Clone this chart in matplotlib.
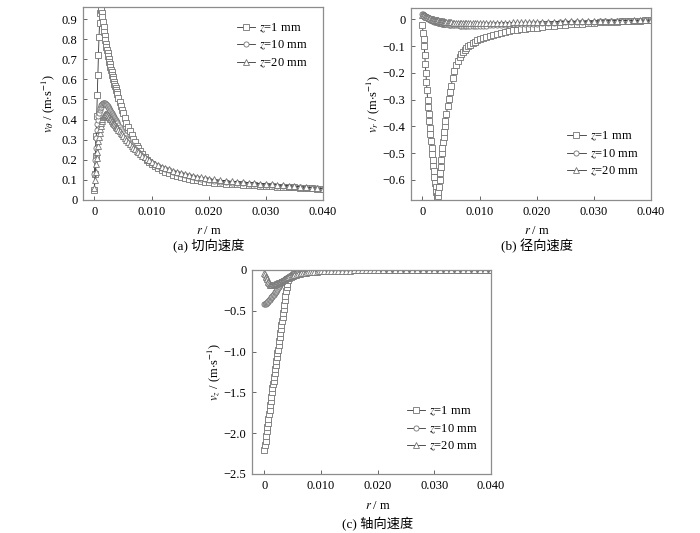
import matplotlib
matplotlib.use('Agg')
from matplotlib import pyplot as plt

plt.rcParams['font.family'] = ['Liberation Serif', 'Noto Sans CJK SC']
plt.rcParams['mathtext.fontset'] = 'stix'
plt.rcParams['font.size'] = 9

# radial positions (m), shared by all curves
r = [0.0000, 0.0001, 0.0002, 0.0003, 0.0004, 0.0005, 0.0006, 0.0007, 0.0008, 0.0009,
     0.0010, 0.0011, 0.0012, 0.0013, 0.0014, 0.0015, 0.0016, 0.0017, 0.0018, 0.0019,
     0.0020, 0.0021, 0.0022, 0.0023, 0.0024, 0.0025, 0.0026, 0.0027, 0.0028, 0.0029,
     0.0030, 0.0031, 0.0032, 0.0033, 0.0034, 0.0035, 0.0036, 0.0037, 0.0038, 0.0039,
     0.0040, 0.0042, 0.0044, 0.0046, 0.0048, 0.0050, 0.0053, 0.0056, 0.0059, 0.0062,
     0.0065, 0.0068, 0.0071, 0.0074, 0.0077, 0.0080, 0.0084, 0.0088, 0.0092, 0.0096,
     0.0100, 0.0106, 0.0112, 0.0118, 0.0124, 0.0130, 0.0137, 0.0144, 0.0151, 0.0158,
     0.0165, 0.0172, 0.0179, 0.0186, 0.0193, 0.0200, 0.021, 0.022, 0.023, 0.024,
     0.025, 0.026, 0.027, 0.028, 0.029, 0.030, 0.031, 0.032, 0.033, 0.034,
     0.035, 0.036, 0.037, 0.038, 0.039, 0.040]

labels = ['$z$=1 mm', '$z$=10 mm', '$z$=20 mm']

# (a) tangential velocity
vt_z1 = [0.05, 0.13, 0.22, 0.32, 0.42, 0.52, 0.62, 0.72, 0.81, 0.88, 0.93, 0.95, 0.945,
         0.93, 0.91, 0.885, 0.86, 0.835, 0.815, 0.795, 0.775,
         0.76, 0.745, 0.73, 0.715, 0.70, 0.687, 0.674, 0.661, 0.648, 0.636, 0.624, 0.612, 0.60,
         0.589, 0.578, 0.567, 0.556, 0.545, 0.535, 0.525,
         0.505, 0.486, 0.467, 0.449, 0.432, 0.408, 0.385, 0.363, 0.342, 0.322, 0.304, 0.287,
         0.271, 0.257, 0.244, 0.228, 0.214, 0.201, 0.189, 0.178,
         0.167, 0.157, 0.148, 0.140, 0.133, 0.126, 0.120, 0.114, 0.109, 0.105, 0.101, 0.097,
         0.094, 0.091, 0.088,
         0.085, 0.083, 0.081, 0.079, 0.078, 0.076, 0.075, 0.073, 0.072, 0.070, 0.069, 0.067,
         0.066, 0.064, 0.063, 0.061, 0.060, 0.058, 0.057, 0.055]
vt_z10 = [0.13, 0.20, 0.26, 0.31, 0.35, 0.38, 0.40, 0.42, 0.435, 0.447, 0.457, 0.465, 0.471,
          0.476, 0.479, 0.481, 0.482, 0.482, 0.481, 0.479,
          0.477, 0.474, 0.471, 0.467, 0.462, 0.457, 0.452, 0.447, 0.442, 0.437, 0.432, 0.427,
          0.422, 0.417, 0.412, 0.407, 0.402, 0.397, 0.392, 0.387, 0.382,
          0.372, 0.362, 0.353, 0.344, 0.335, 0.322, 0.309, 0.297, 0.286, 0.275, 0.265, 0.255,
          0.246, 0.237, 0.229, 0.219, 0.210, 0.201, 0.193, 0.185,
          0.176, 0.168, 0.160, 0.153, 0.147, 0.140, 0.134, 0.128, 0.123, 0.118, 0.114, 0.110,
          0.106, 0.103, 0.099,
          0.095, 0.092, 0.089, 0.087, 0.085, 0.083, 0.081, 0.079, 0.077, 0.075, 0.073, 0.071,
          0.069, 0.067, 0.065, 0.063, 0.061, 0.059, 0.058, 0.056]
vt_z20 = [0.06, 0.10, 0.14, 0.18, 0.21, 0.24, 0.27, 0.295, 0.315, 0.335, 0.352, 0.368, 0.381,
          0.393, 0.403, 0.411, 0.418, 0.423, 0.427, 0.429, 0.430,
          0.429, 0.427, 0.424, 0.421, 0.417, 0.413, 0.409, 0.405, 0.401, 0.397, 0.393, 0.389,
          0.385, 0.381, 0.377, 0.373, 0.369, 0.365, 0.361, 0.357,
          0.349, 0.341, 0.333, 0.326, 0.319, 0.308, 0.297, 0.287, 0.278, 0.269, 0.260, 0.252,
          0.244, 0.237, 0.230, 0.221, 0.213, 0.205, 0.197, 0.190,
          0.181, 0.173, 0.165, 0.158, 0.152, 0.145, 0.139, 0.134, 0.129, 0.124, 0.120, 0.116,
          0.112, 0.109, 0.105,
          0.102, 0.099, 0.096, 0.093, 0.091, 0.089, 0.087, 0.085, 0.082, 0.080, 0.078, 0.076,
          0.073, 0.071, 0.068, 0.066, 0.064, 0.061, 0.059, 0.057]

# (b) radial velocity
vr_z1 = [-0.02, -0.05, -0.075, -0.10, -0.133, -0.166, -0.20, -0.233, -0.266, -0.30, -0.328,
         -0.355, -0.38, -0.405, -0.43, -0.455, -0.48, -0.505, -0.527, -0.548, -0.568,
         -0.59, -0.61, -0.628, -0.645, -0.66, -0.665, -0.66, -0.645, -0.625, -0.60, -0.575,
         -0.55, -0.525, -0.50, -0.48, -0.46, -0.44, -0.42, -0.40, -0.38,
         -0.355, -0.325, -0.297, -0.272, -0.25, -0.22, -0.195, -0.172, -0.155, -0.142, -0.131,
         -0.122, -0.114, -0.107, -0.101, -0.095, -0.089, -0.084, -0.079, -0.075,
         -0.070, -0.066, -0.062, -0.058, -0.055, -0.051, -0.048, -0.045, -0.042, -0.040,
         -0.038, -0.036, -0.034, -0.032, -0.031,
         -0.028, -0.026, -0.024, -0.022, -0.020, -0.019, -0.017, -0.016, -0.014, -0.013,
         -0.012, -0.011, -0.010, -0.009, -0.008, -0.007, -0.006, -0.005, -0.004, -0.003]
vr_z10 = [0.020, 0.019, 0.017, 0.015, 0.013, 0.011, 0.009, 0.007, 0.005, 0.004, 0.002,
          0.001, 0.000, -0.001, -0.002, -0.003, -0.004, -0.005, -0.006, -0.007, -0.008,
          -0.009, -0.0095, -0.010, -0.011, -0.0115, -0.012, -0.0125, -0.013, -0.0135, -0.014,
          -0.0145, -0.015, -0.0155, -0.016, -0.0165, -0.017, -0.0173, -0.0176, -0.018, -0.0183,
          -0.019, -0.0195, -0.020, -0.0205, -0.021, -0.0217, -0.0223, -0.0228, -0.0233, -0.0237,
          -0.024, -0.0243, -0.0245, -0.0247, -0.0248, -0.0248, -0.0247, -0.0246, -0.0244, -0.0242,
          -0.0238, -0.0234, -0.023, -0.0225, -0.022, -0.0214, -0.0208, -0.0202, -0.0196, -0.019,
          -0.0184, -0.0178, -0.0172, -0.0166, -0.016,
          -0.015, -0.014, -0.013, -0.012, -0.011, -0.0105, -0.010, -0.0095, -0.009, -0.0085,
          -0.008, -0.0075, -0.007, -0.0065, -0.006, -0.0056, -0.0052, -0.0048, -0.0044, -0.004]
vr_z20 = [0.016, 0.016, 0.015, 0.014, 0.013, 0.012, 0.011, 0.010, 0.009, 0.008, 0.007,
          0.006, 0.005, 0.004, 0.003, 0.002, 0.0015, 0.001, 0.0005, 0.0, -0.0005,
          -0.001, -0.0015, -0.002, -0.0025, -0.003, -0.0035, -0.004, -0.0045, -0.005, -0.0055,
          -0.006, -0.0064, -0.0068, -0.0072, -0.0076, -0.008, -0.0084, -0.0087, -0.009, -0.0093,
          -0.0099, -0.0104, -0.0109, -0.0113, -0.0117, -0.0122, -0.0126, -0.013, -0.0133, -0.0136,
          -0.0138, -0.014, -0.0142, -0.0143, -0.0144, -0.0145, -0.0145, -0.0145, -0.0144, -0.0143,
          -0.0141, -0.0139, -0.0137, -0.0134, -0.0131, -0.0128, -0.0125, -0.0122, -0.0119, -0.0116,
          -0.0113, -0.011, -0.0107, -0.0104, -0.0101,
          -0.0097, -0.0093, -0.0089, -0.0085, -0.0081, -0.0077, -0.0074, -0.0071, -0.0068, -0.0065,
          -0.0062, -0.0059, -0.0056, -0.0053, -0.005, -0.0047, -0.0044, -0.0041, -0.0038, -0.0035]

# (c) axial velocity
vz_z1 = [-2.20, -2.15, -2.09, -2.03, -1.975, -1.92, -1.87, -1.82, -1.765, -1.71, -1.66,
         -1.605, -1.555, -1.50, -1.45, -1.40, -1.355, -1.31, -1.26, -1.21, -1.165,
         -1.12, -1.07, -1.02, -0.975, -0.925, -0.875, -0.825, -0.775, -0.725, -0.675,
         -0.625, -0.575, -0.525, -0.475, -0.425, -0.37, -0.315, -0.26, -0.21, -0.17,
         -0.125, -0.10, -0.085, -0.073, -0.063, -0.052, -0.044, -0.037, -0.032, -0.028,
         -0.024, -0.021, -0.019, -0.017, -0.015, -0.013, -0.012, -0.011, -0.010, -0.009,
         -0.008, -0.007, -0.006, -0.0055, -0.005, -0.0045, -0.004, -0.0035, -0.003, -0.003,
         -0.0025, -0.0025, -0.002, -0.002, -0.002,
         -0.002, -0.002, -0.0018, -0.0018, -0.0016, -0.0016, -0.0015, -0.0015, -0.0014, -0.0014,
         -0.0013, -0.0013, -0.0012, -0.0012, -0.0011, -0.0011, -0.001, -0.001, -0.001, -0.001]
vz_z10 = [-0.42, -0.418, -0.414, -0.409, -0.403, -0.397, -0.39, -0.381, -0.372, -0.363, -0.354,
          -0.345, -0.336, -0.327, -0.318, -0.31, -0.301, -0.292, -0.283, -0.273, -0.264,
          -0.254, -0.244, -0.234, -0.225, -0.213, -0.201, -0.189, -0.177, -0.165, -0.157,
          -0.149, -0.141, -0.134, -0.127, -0.120, -0.114, -0.108, -0.102, -0.097, -0.092,
          -0.083, -0.075, -0.068, -0.063, -0.058, -0.051, -0.045, -0.04, -0.036, -0.032,
          -0.028, -0.025, -0.022, -0.02, -0.018, -0.016, -0.014, -0.012, -0.011, -0.010,
          -0.009, -0.008, -0.007, -0.0065, -0.006, -0.0055, -0.005, -0.0045, -0.004, -0.0038,
          -0.0036, -0.0034, -0.0032, -0.003, -0.0028,
          -0.0026, -0.0024, -0.0022, -0.002, -0.0019, -0.0018, -0.0017, -0.0016, -0.0015, -0.0014,
          -0.0013, -0.0012, -0.0012, -0.0011, -0.0011, -0.001, -0.001, -0.001, -0.0009, -0.0009]
vz_z20 = [-0.04, -0.055, -0.07, -0.085, -0.10, -0.115, -0.13, -0.145, -0.158, -0.17, -0.18,
          -0.185, -0.188, -0.187, -0.185, -0.182, -0.179, -0.176, -0.173, -0.17, -0.167,
          -0.164, -0.161, -0.158, -0.155, -0.152, -0.148, -0.145, -0.141, -0.137, -0.133,
          -0.129, -0.125, -0.121, -0.117, -0.113, -0.109, -0.105, -0.101, -0.098, -0.095,
          -0.089, -0.083, -0.078, -0.073, -0.068, -0.062, -0.056, -0.051, -0.046, -0.042,
          -0.038, -0.035, -0.032, -0.029, -0.027, -0.024, -0.022, -0.02, -0.018, -0.016,
          -0.014, -0.012, -0.011, -0.010, -0.009, -0.008, -0.007, -0.0065, -0.006, -0.0055,
          -0.005, -0.0045, -0.004, -0.0038, -0.0035,
          -0.0032, -0.003, -0.0028, -0.0026, -0.0024, -0.0022, -0.002, -0.0019, -0.0018, -0.0017,
          -0.0016, -0.0015, -0.0014, -0.0013, -0.0012, -0.0012, -0.0011, -0.0011, -0.001, -0.001]

xticks = [0, 0.01, 0.02, 0.03, 0.04]
xticklabels = ['0', '0.010', '0.020', '0.030', '0.040']
markers = ['s', 'o', '^']

W, H = 700, 533
fig = plt.figure(figsize=(7, 5.33), dpi=100)


def make_axes(x0, y0, x1, y1):
    # pixel box -> figure fraction
    return fig.add_axes([x0 / W, 1 - y1 / H, (x1 - x0) / W, (y1 - y0) / H])


def draw(ax, series, ylim, yticks, yticklabels, ylabel, xlim_left, leg_xy, ylab_x):
    for vals, m, lab in zip(series, markers, labels):
        ax.plot(r, vals, color='0.2', lw=0.6, marker=m, ms=3.7, mfc='white',
                mec='0.45', mew=0.6, label=lab)
    ax.set_xlim(xlim_left, 0.040)
    ax.set_ylim(*ylim)
    ax.set_xticks(xticks, xticklabels)
    ax.set_yticks(yticks, yticklabels)
    ax.tick_params(direction='in', length=3, width=0.7, color='0.4', labelsize=9, pad=4)
    for s in ax.spines.values():
        s.set_color('0.55')
        s.set_linewidth(0.9)
    ax.set_ylabel(ylabel, fontsize=9)
    ax.yaxis.set_label_coords(ylab_x, 0.5)
    ax.legend(loc='center left', bbox_to_anchor=leg_xy, frameon=False, fontsize=9,
              handlelength=1.5, handletextpad=0.3, labelspacing=0.32, borderpad=0,
              borderaxespad=0)


axa = make_axes(83, 7, 323, 200)
draw(axa, [vt_z1, vt_z10, vt_z20], (0, 0.96),
     [0, 0.1, 0.2, 0.3, 0.4, 0.5, 0.6, 0.7, 0.8, 0.9],
     ['0', '0.1', '0.2', '0.3', '0.4', '0.5', '0.6', '0.7', '0.8', '0.9'],
     r'$v_\theta$ / (m$\cdot$s$^{-1}$)', -0.002, (0.64, 0.80), -0.11)

axb = make_axes(411, 8, 651, 200)
draw(axb, [vr_z1, vr_z10, vr_z20], (-0.675, 0.042),
     [0, -0.1, -0.2, -0.3, -0.4, -0.5, -0.6],
     ['0', '\u22120.1', '\u22120.2', '\u22120.3', '\u22120.4', '\u22120.5', '\u22120.6'],
     r'$v_r$ / (m$\cdot$s$^{-1}$)', -0.002, (0.65, 0.24), -0.12)

axc = make_axes(252, 270, 491, 474)
draw(axc, [vz_z1, vz_z10, vz_z20], (-2.5, 0),
     [0, -0.5, -1.0, -1.5, -2.0, -2.5],
     ['0', '\u22120.5', '\u22121.0', '\u22121.5', '\u22122.0', '\u22122.5'],
     r'$v_z$ / (m$\cdot$s$^{-1}$)', -0.0022, (0.647, 0.22), -0.122)

# x labels and captions, centred under r = 0.02
for ax, ylab, ycap, cap in [(axa, 231, 246, '(a) 切向速度'),
                            (axb, 231, 246, '(b) 径向速度'),
                            (axc, 506, 524, '(c) 轴向速度')]:
    xc = ax.transData.transform((0.02, 0))[0] / fig.dpi / fig.get_figwidth()
    fig.text(xc, 1 - ylab / H, '$r$ / m', ha='center', va='center', fontsize=9)
    fig.text(xc, 1 - ycap / H, cap, ha='center', va='center', fontsize=9.5)

fig.savefig('out.png', dpi=100)
